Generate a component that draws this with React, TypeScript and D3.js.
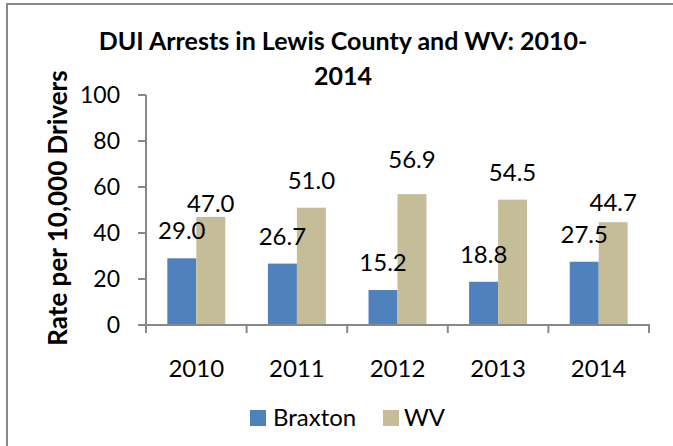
import React from "react"
import * as d3 from "d3"

const WIDTH = 673
const HEIGHT = 446

const years = ["2010", "2011", "2012", "2013", "2014"]
const seriesNames = ["Braxton", "WV"]
const braxton = [29.0, 26.7, 15.2, 18.8, 27.5]
const wv = [47.0, 51.0, 56.9, 54.5, 44.7]
const yTicks = [0, 20, 40, 60, 80, 100]

const COLORS: Record<string, string> = { Braxton: "#4f81bd", WV: "#c4bd97" }
const FONT = "Lato, 'Open Sans', sans-serif"
const AXIS = "#888888"

// a few labels sit off the default spot in the original
const LABEL_GAP = 19
const labelNudge: Record<string, number> = { "WV-2010": -14, "WV-2014": -8, "WV-2012": 7 }

const App: React.FC = () => {
    const x = d3.scaleBand<string>().domain(years).range([146, 649])
    const inner = d3
        .scaleBand<string>()
        .domain(seriesNames)
        .range([x.bandwidth() * 0.212, x.bandwidth() * 0.788])
    const y = d3.scaleLinear().domain([0, 100]).range([325, 95])

    const rows = years.map((yr, i) => ({
        year: yr,
        values: [
            { name: "Braxton", value: braxton[i] },
            { name: "WV", value: wv[i] },
        ],
    }))

    return (
        <svg
            width={WIDTH}
            height={HEIGHT}
            style={{ position: "absolute", left: 0, top: 0, background: "#fff" }}
        >
            <rect x={7} y={4} width={WIDTH + 20} height={HEIGHT + 20} fill="#fff" stroke={AXIS} strokeWidth={2} />

            {/* title */}
            <text x={343} y={50} textAnchor="middle" fontFamily={FONT} fontWeight="bold" fontSize={25} fill="#000">
                DUI Arrests in Lewis County and WV: 2010-
            </text>
            <text x={343} y={85} textAnchor="middle" fontFamily={FONT} fontWeight="bold" fontSize={25} fill="#000">
                2014
            </text>

            {/* y axis title */}
            <text
                transform="translate(67,208) rotate(-90)"
                textAnchor="middle"
                fontFamily={FONT}
                fontWeight="bold"
                fontSize={26}
                fill="#000"
            >
                Rate per 10,000 Drivers
            </text>

            {/* bars */}
            {rows.map(r => (
                <g key={r.year} transform={`translate(${x(r.year)},0)`}>
                    {r.values.map(v => (
                        <rect
                            key={v.name}
                            x={inner(v.name)}
                            y={y(v.value)}
                            width={inner.bandwidth()}
                            height={y(0) - y(v.value)}
                            fill={COLORS[v.name]}
                        />
                    ))}
                    {r.values.map(v => (
                        <text
                            key={v.name + "-l"}
                            x={inner(v.name)! + inner.bandwidth() / 2}
                            y={y(v.value) - LABEL_GAP - (labelNudge[`${v.name}-${r.year}`] || 0)}
                            textAnchor="middle"
                            fontFamily={FONT}
                            fontSize={24}
                            fill="#000"
                        >
                            {v.value.toFixed(1)}
                        </text>
                    ))}
                </g>
            ))}

            {/* y axis */}
            <line x1={146} x2={146} y1={y(100)} y2={y(0)} stroke={AXIS} strokeWidth={2} />
            {yTicks.map(t => (
                <g key={t}>
                    <line x1={138} x2={146} y1={y(t)} y2={y(t)} stroke={AXIS} strokeWidth={2} />
                    <text x={120} y={y(t)} dy="0.35em" textAnchor="end" fontFamily={FONT} fontSize={23} fill="#000">
                        {t}
                    </text>
                </g>
            ))}

            {/* x axis */}
            <line x1={145} x2={650} y1={y(0)} y2={y(0)} stroke={AXIS} strokeWidth={2} />
            {[...years.map(yr => x(yr)!), 649].map((p, i) => (
                <line key={i} x1={p} x2={p} y1={y(0)} y2={y(0) + 8} stroke={AXIS} strokeWidth={2} />
            ))}
            {years.map(yr => (
                <text
                    key={yr}
                    x={x(yr)! + x.bandwidth() / 2}
                    y={377}
                    textAnchor="middle"
                    fontFamily={FONT}
                    fontSize={24}
                    fill="#000"
                >
                    {yr}
                </text>
            ))}

            {/* legend */}
            <rect x={250} y={410} width={16} height={16} fill={COLORS.Braxton} />
            <text x={273} y={426} fontFamily={FONT} fontSize={24} fill="#000">
                Braxton
            </text>
            <rect x={383} y={410} width={16} height={16} fill={COLORS.WV} />
            <text x={404} y={426} fontFamily={FONT} fontSize={24} fill="#000">
                WV
            </text>
        </svg>
    )
}

export default App
